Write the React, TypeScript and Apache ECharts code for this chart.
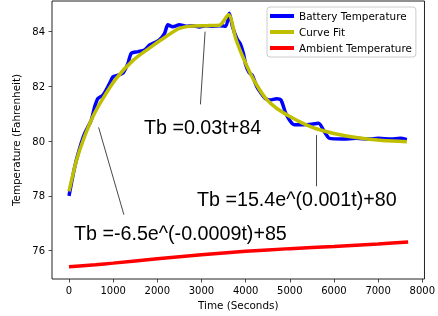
import React, { useEffect, useRef } from "react";
import * as echarts from "echarts";

// Battery temperature (seconds, °F)
const tBattery = [0, 130, 240, 355, 505, 580, 655, 770, 920, 995, 1110, 1220, 1335, 1410, 1560, 1710, 1825, 1975, 2050, 2165, 2240, 2350, 2500, 2650, 2800, 2950, 3100, 3250, 3400, 3550, 3630, 3700, 3800, 3880, 3950, 4000, 4080, 4150, 4250, 4350, 4450, 4550, 4700, 4800, 4900, 5000, 5100, 5300, 5500, 5650, 5800, 5900, 6200, 6500, 6800, 7000, 7300, 7500, 7650];
const battery = [78.0, 79.06, 79.73, 80.28, 80.77, 81.25, 81.56, 81.68, 82.11, 82.35, 82.41, 82.48, 82.84, 83.21, 83.27, 83.33, 83.51, 83.63, 83.7, 83.94, 84.25, 84.18, 84.25, 84.2, 84.22, 84.17, 84.22, 84.2, 84.22, 84.2, 84.67, 84.2, 83.75, 83.55, 83.2, 82.8, 82.5, 82.4, 82.0, 81.75, 81.55, 81.5, 81.55, 81.5, 81.05, 80.75, 80.6, 80.6, 80.62, 80.65, 80.3, 80.1, 80.08, 80.1, 80.08, 80.1, 80.08, 80.1, 80.05];

// Curve fit
const tFit = [0, 170, 320, 540, 770, 1070, 1450, 1820, 2200, 2500, 2800, 3100, 3400, 3610, 3780, 3930, 4100, 4250, 4460, 4700, 5000, 5300, 5600, 6000, 6500, 7100, 7650];
const fit = [78.16, 79.3, 80.03, 80.89, 81.56, 82.29, 82.95, 83.4, 83.82, 84.12, 84.21, 84.22, 84.23, 84.62, 83.72, 83.1, 82.5, 82.05, 81.55, 81.2, 80.9, 80.65, 80.45, 80.28, 80.13, 80.02, 79.98];

// Ambient temperature
const tAmbient = [0, 600, 1000, 2000, 3000, 4000, 5000, 6000, 7000, 7680];
const ambient = [75.41, 75.48, 75.54, 75.7, 75.85, 75.97, 76.07, 76.15, 76.24, 76.31];

const xTicks = [0, 1000, 2000, 3000, 4000, 5000, 6000, 7000, 8000];
const yTicks = [76, 78, 80, 82, 84];

// Annotations: [point on curve, text anchor] in data coordinates
const annotationLines = [
  [[671, 80.5], [1243, 77.31]],
  [[3082, 84.0], [2976, 81.34]],
  [[5605, 80.22], [5605, 78.35]],
];
const annotationTexts = ["Tb =0.03t+84", "Tb =15.4e^(0.001t)+80", "Tb =-6.5e^(-0.0009t)+85"];

const zip = (a: number[], b: number[]) => a.map((v, i) => [v, b[i]]);

export default function App() {
  const ref = useRef<HTMLDivElement>(null);
  useEffect(() => {
    const chart = echarts.init(ref.current!, null, { renderer: "svg" });
    const tickFont = { fontFamily: "DejaVu Sans", fontSize: 10, color: "#000" };
    const annFont = '19.7px "Liberation Sans", Arial, sans-serif';
    chart.setOption({
      animation: false,
      grid: { left: 52, right: 13, top: 1, bottom: 37, show: true, borderColor: "#222", borderWidth: 1, backgroundColor: "transparent" },
      xAxis: {
        type: "value",
        min: -385,
        max: 8050,
        name: "Time (Seconds)",
        nameLocation: "middle",
        nameGap: 19,
        nameTextStyle: { fontFamily: "DejaVu Sans", fontSize: 10.4, color: "#000" },
        axisLine: { show: false, onZero: false },
        axisTick: { show: true, length: 3.5, inside: false, customValues: xTicks, lineStyle: { color: "#222", width: 0.8 } },
        axisLabel: { ...tickFont, margin: 6, customValues: xTicks, formatter: (v: number) => String(v) },
        splitLine: { show: false },
      },
      yAxis: {
        type: "value",
        min: 74.96,
        max: 85.12,
        name: "Temperature (Fahrenheit)",
        nameLocation: "middle",
        nameGap: 21,
        nameTextStyle: { fontFamily: "DejaVu Sans", fontSize: 10.4, color: "#000" },
        axisLine: { show: false, onZero: false },
        axisTick: { show: true, length: 3.5, inside: false, customValues: yTicks, lineStyle: { color: "#222", width: 0.8 } },
        axisLabel: { ...tickFont, margin: 7, customValues: yTicks, formatter: (v: number) => String(v) },
        splitLine: { show: false },
      },
      legend: {
        orient: "vertical",
        left: 267,
        top: 7,
        icon: "rect",
        itemWidth: 24,
        itemHeight: 4,
        itemGap: 4,
        padding: [3, 4, 3, 3],
        backgroundColor: "rgba(255,255,255,0.8)",
        borderColor: "#cccccc",
        borderWidth: 1,
        borderRadius: 3,
        textStyle: { fontFamily: "DejaVu Sans", fontSize: 10.4, color: "#000", lineHeight: 12 },
        data: ["Battery Temperature", "Curve Fit", "Ambient Temperature"],
      },
      series: [
        {
          name: "Battery Temperature",
          type: "line",
          data: zip(tBattery, battery),
          showSymbol: false,
          smooth: 0.25,
          color: "#0000ff",
          lineStyle: { width: 3.5, color: "#0000ff" },
          z: 2,
        },
        {
          name: "Curve Fit",
          type: "line",
          data: zip(tFit, fit),
          showSymbol: false,
          smooth: 0.3,
          color: "#bfbf00",
          lineStyle: { width: 3.5, color: "#bfbf00" },
          z: 3,
          markLine: {
            silent: true,
            symbol: "none",
            label: { show: false },
            lineStyle: { color: "#333", width: 0.9, type: "solid" },
            data: annotationLines.map(([a, b]) => [{ coord: a }, { coord: b }]),
          },
        },
        {
          name: "Ambient Temperature",
          type: "line",
          data: zip(tAmbient, ambient),
          showSymbol: false,
          smooth: 0.2,
          color: "#ff0000",
          lineStyle: { width: 3.5, color: "#ff0000" },
          z: 4,
        },
      ],
      graphic: [
        { type: "text", x: 144, y: 127, style: { text: annotationTexts[0], font: annFont, fill: "#000", verticalAlign: "middle" } },
        { type: "text", x: 197, y: 199, style: { text: annotationTexts[1], font: annFont, fill: "#000", verticalAlign: "middle" } },
        { type: "text", x: 74, y: 233, style: { text: annotationTexts[2], font: annFont, fill: "#000", verticalAlign: "middle" } },
      ],
    });
    return () => chart.dispose();
  }, []);
  return <div ref={ref} style={{ position: "fixed", left: 0, top: 0, width: 438, height: 316 }} />;
}
